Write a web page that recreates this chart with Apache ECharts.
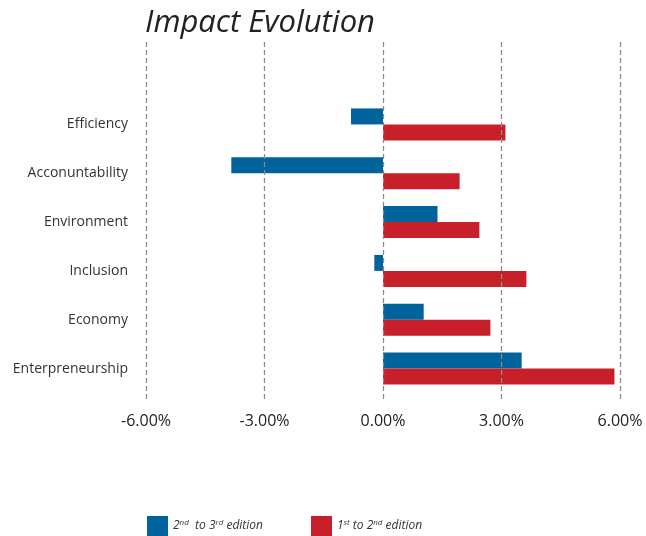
<!DOCTYPE html>
<html><head><meta charset="utf-8">
<script src="https://cdn.jsdelivr.net/npm/echarts@6/dist/echarts.min.js"></script>
<style>html,body{margin:0;padding:0;background:#fff}#c{width:646px;height:536px}</style>
</head><body><div id="c"></div>
<script>
const categories = ['Efficiency','Acconuntability','Environment','Inclusion','Economy','Enterpreneurship'];
const series2to3 = [-0.81, -3.84, 1.38, -0.22, 1.03, 3.51];
const series1to2 = [3.10, 1.94, 2.44, 3.63, 2.72, 5.86];
const xTicks = [-6, -3, 0, 3, 6];
const seriesNames = ['2nd to 3rd edition', '1st to 2nd edition'];

const chart = echarts.init(document.getElementById('c'));
const sup = {fontSize: 8, fontStyle: 'italic', color: '#333', verticalAlign: 'top', padding: [0,0,6,0], fontFamily: 'Open Sans'};
chart.setOption({
  animation: false,
  title: {text: 'Impact Evolution', left: 140, top: 3,
    textStyle: {fontFamily: 'Open Sans', fontStyle: 'italic', fontWeight: 'normal', fontSize: 31, color: '#222'}},
  legend: [
    {data: [seriesNames[0]], left: 147, top: 516, padding: 0, itemWidth: 21, itemHeight: 20, icon: 'rect',
     formatter: () => '2{s|nd}  to 3{s|rd} edition',
     textStyle: {fontFamily: 'Open Sans', fontStyle: 'italic', fontSize: 12, color: '#333', rich: {s: sup}}},
    {data: [seriesNames[1]], left: 311, top: 516, padding: 0, itemWidth: 21, itemHeight: 20, icon: 'rect',
     formatter: () => '1{s|st} to 2{s|nd} edition',
     textStyle: {fontFamily: 'Open Sans', fontStyle: 'italic', fontSize: 12, color: '#333', rich: {s: sup}}}
  ],
  grid: [
    {left: 146, right: 26, top: 100, bottom: 143},
    {left: 146, right: 26, top: 42, bottom: 136, z: 10}
  ],
  xAxis: [
    {gridIndex: 0, type: 'value', min: -6, max: 6, interval: 3, show: false},
    {gridIndex: 1, type: 'value', min: -6, max: 6, interval: 3, z: 10,
     axisLine: {show: false}, axisTick: {show: false},
     splitLine: {show: true, lineStyle: {color: '#8a8a8a', type: [5, 3], width: 1.3}},
     axisLabel: {margin: 13, fontFamily: 'Open Sans', fontSize: 16, color: '#222',
       formatter: v => xTicks.includes(v) ? v.toFixed(2) + '%' : ''}}
  ],
  yAxis: [
    {gridIndex: 0, type: 'category', data: categories, inverse: true,
     axisLine: {show: false}, axisTick: {show: false},
     axisLabel: {margin: 18, fontFamily: 'Open Sans', fontSize: 14, color: '#333'}},
    {gridIndex: 1, type: 'value', min: 0, max: 1, show: false}
  ],
  series: [
    {name: seriesNames[0], type: 'bar', xAxisIndex: 0, yAxisIndex: 0, data: series2to3,
     barWidth: 16, barGap: '0%', itemStyle: {color: '#00639C'}},
    {name: seriesNames[1], type: 'bar', xAxisIndex: 0, yAxisIndex: 0, data: series1to2,
     barWidth: 16, barGap: '0%', itemStyle: {color: '#C8202A'}}
  ]
});
</script></body></html>
